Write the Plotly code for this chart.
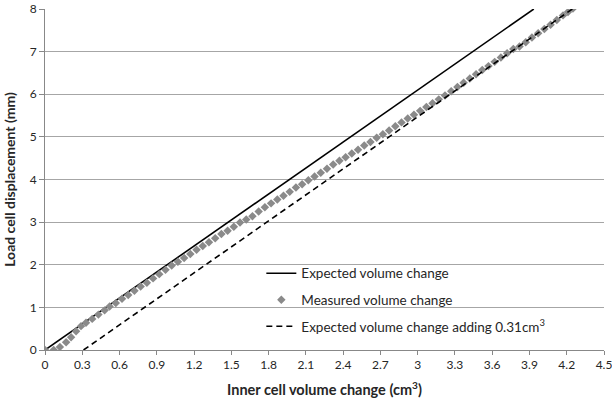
import plotly.graph_objects as go

# Expected volume change line
expected_x = [0.0, 3.935]
expected_y = [0.0, 8.0]

# Expected volume change adding 0.31 cm3
shifted_x = [0.31, 4.245]
shifted_y = [0.0, 8.0]

# Measured volume change
measured_x = [0.00, 0.07, 0.12, 0.17, 0.21, 0.25, 0.29, 0.33, 0.38, 0.43, 0.48, 0.52, 0.57, 0.62,
              0.67, 0.72, 0.77, 0.82, 0.87, 0.92, 0.97, 1.02, 1.07, 1.12, 1.17, 1.22, 1.27, 1.32,
              1.37, 1.42, 1.47, 1.52, 1.57, 1.62, 1.67, 1.72, 1.77, 1.82, 1.87, 1.92, 1.97, 2.02,
              2.07, 2.12, 2.17, 2.22, 2.27, 2.32, 2.37, 2.42, 2.47, 2.52, 2.57, 2.62, 2.67, 2.72,
              2.77, 2.82, 2.87, 2.92, 2.97, 3.02, 3.07, 3.12, 3.17, 3.22, 3.27, 3.32, 3.37, 3.42,
              3.47, 3.52, 3.57, 3.62, 3.67, 3.72, 3.77, 3.82, 3.87, 3.92, 3.97, 4.02, 4.07, 4.12,
              4.17, 4.21, 4.25]
measured_y = [0.00, 0.00, 0.07, 0.18, 0.30, 0.44, 0.56, 0.64, 0.73, 0.83, 0.93, 1.02, 1.10, 1.20,
              1.29, 1.39, 1.49, 1.58, 1.68, 1.78, 1.88, 1.98, 2.07, 2.16, 2.25, 2.35, 2.44, 2.53,
              2.62, 2.72, 2.80, 2.89, 2.99, 3.06, 3.14, 3.25, 3.35, 3.44, 3.53, 3.62, 3.71, 3.81,
              3.89, 3.98, 4.07, 4.16, 4.25, 4.35, 4.44, 4.52, 4.61, 4.70, 4.80, 4.88, 4.98, 5.06,
              5.15, 5.25, 5.34, 5.43, 5.52, 5.61, 5.70, 5.79, 5.88, 5.97, 6.07, 6.17, 6.27, 6.37,
              6.47, 6.57, 6.66, 6.76, 6.86, 6.96, 7.06, 7.12, 7.22, 7.33, 7.43, 7.53, 7.63, 7.74,
              7.85, 7.93, 8.01]

x_ticks = [0, 0.3, 0.6, 0.9, 1.2, 1.5, 1.8, 2.1, 2.4, 2.7, 3, 3.3, 3.6, 3.9, 4.2, 4.5]
y_ticks = [0, 1, 2, 3, 4, 5, 6, 7, 8]

FONT = "Lato, Carlito, Calibri, sans-serif"

fig = go.Figure()
fig.add_trace(go.Scatter(
    x=expected_x, y=expected_y, mode="lines", name="Expected volume change",
    line=dict(color="black", width=1.6), legendgroup="a"))
fig.add_trace(go.Scatter(
    x=measured_x, y=measured_y, mode="markers", name="Measured volume change",
    marker=dict(symbol="diamond", color="#8a8a8a", size=6.5, line=dict(width=0)),
    legendgroup="b"))
fig.add_trace(go.Scatter(
    x=shifted_x, y=shifted_y, mode="lines",
    name="Expected volume change adding 0.31cm<sup>3</sup>",
    line=dict(color="black", width=1.6, dash="6px,4px"), legendgroup="c"))

fig.update_layout(
    width=612, height=404,
    margin=dict(l=44.7, r=7.7, t=9.3, b=54.3),
    paper_bgcolor="white", plot_bgcolor="white",
    font=dict(family=FONT, size=12, color="#262626"),
    showlegend=True,
    legend=dict(x=0.387, y=0.27, xanchor="left", yanchor="top",
                bgcolor="rgba(0,0,0,0)", font=dict(size=13.5, color="#262626"),
                tracegroupgap=6, itemwidth=30),
    xaxis=dict(range=[0, 4.5], tickvals=x_ticks, ticktext=[str(v) for v in x_ticks],
               showgrid=False, zeroline=False, automargin=False,
               ticklabeloverflow="allow",
               showline=True, linecolor="#888888", linewidth=1,
               ticks="outside", ticklen=4, tickcolor="#888888",
               tickfont=dict(size=12),
               title=dict(text="<b>Inner cell volume change (cm<sup>3</sup>)</b>",
                          font=dict(size=14.5), standoff=13)),
    yaxis=dict(range=[0, 8], tickvals=y_ticks, showgrid=True, gridcolor="#a6a6a6",
               gridwidth=1, zeroline=False, automargin=False,
               ticklabeloverflow="allow",
               showline=True, linecolor="#888888", linewidth=1,
               ticks="outside", ticklen=5, tickcolor="#888888",
               tickfont=dict(size=12),
               title=dict(text="<b>Load cell displacement (mm)</b>",
                          font=dict(size=14), standoff=10)),
)

fig.write_html("out.html",
               config={"displayModeBar": False},
               post_script="document.body.style.margin='0';document.body.style.padding='0';")
